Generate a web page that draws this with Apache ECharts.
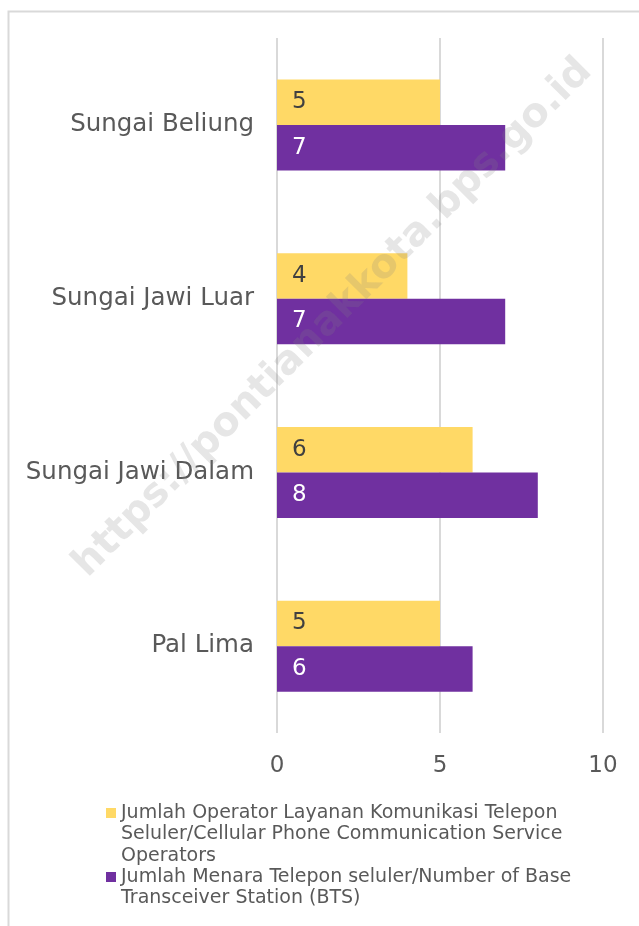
<!DOCTYPE html>
<html>
<head>
<meta charset="utf-8">
<script src="https://cdn.jsdelivr.net/npm/echarts@6/dist/echarts.min.js"></script>
<style>
  html, body { margin: 0; padding: 0; background: #fff; }
  #main { width: 639px; height: 926px; }
</style>
</head>
<body>
<div id="main"></div>
<script>
// kelurahan (dari atas ke bawah)
var kelurahan = ['Sungai Beliung', 'Sungai Jawi Luar', 'Sungai Jawi Dalam', 'Pal Lima'];
var operatorData = [5, 4, 6, 5];
var menaraData = [7, 7, 8, 6];
var xTicks = [0, 5, 10];

var namaOperator = 'Jumlah Operator Layanan Komunikasi Telepon Seluler/Cellular Phone Communication Service Operators';
var namaMenara = 'Jumlah Menara Telepon seluler/Number of Base Transceiver Station (BTS)';
// teks legenda per baris; baris kosong di depan supaya ikon sejajar baris pertama
var legendWrap = {};
legendWrap[namaOperator] = '\n\nJumlah Operator Layanan Komunikasi Telepon\nSeluler/Cellular Phone Communication Service\nOperators';
legendWrap[namaMenara] = '\nJumlah Menara Telepon seluler/Number of Base\nTransceiver Station (BTS)';

var font = 'DejaVu Sans';
var abu = '#595959';
var lh = 21.5;

var myChart = echarts.init(document.getElementById('main'));

function legendItem(nama, top) {
    return {
        data: [nama],
        left: 106,
        top: top,
        padding: 0,
        icon: 'rect',
        itemWidth: 10,
        itemHeight: 10,
        selectedMode: false,
        formatter: function (n) { return legendWrap[n]; },
        textStyle: { fontFamily: font, fontSize: 19, color: abu, lineHeight: lh }
    };
}

option = {
    animation: false,
    backgroundColor: '#fff',
    textStyle: { fontFamily: font },
    grid: {
        left: 277,
        right: 36,
        top: 38,
        bottom: 193,
        containLabel: false
    },
    legend: [
        legendItem(namaOperator, 813 - lh * 5 / 2),
        legendItem(namaMenara, 877 - lh * 3 / 2)
    ],
    xAxis: {
        type: 'value',
        min: xTicks[0],
        max: xTicks[xTicks.length - 1],
        interval: xTicks[1] - xTicks[0],
        axisLine: { show: false },
        axisTick: { show: false },
        splitLine: { lineStyle: { color: '#d9d9d9', width: 2 } },
        axisLabel: { color: abu, fontSize: 23, fontFamily: font, margin: 22 }
    },
    yAxis: {
        type: 'category',
        inverse: true,
        data: kelurahan,
        axisLine: { show: false },
        axisTick: { show: false },
        axisLabel: { color: abu, fontSize: 24.5, fontFamily: font, margin: 23 }
    },
    series: [
        {
            name: namaOperator,
            type: 'bar',
            data: operatorData,
            barWidth: 45.5,
            barGap: '0%',
            itemStyle: { color: '#FFD966' },
            label: {
                show: true,
                position: 'insideLeft',
                distance: 15,
                color: '#404040',
                fontSize: 23,
                fontFamily: font
            }
        },
        {
            name: namaMenara,
            type: 'bar',
            data: menaraData,
            barWidth: 45.5,
            barGap: '0%',
            itemStyle: { color: '#7030A0' },
            label: {
                show: true,
                position: 'insideLeft',
                distance: 15,
                color: '#ffffff',
                fontSize: 23,
                fontFamily: font
            }
        }
    ],
    graphic: [
        {
            type: 'rect',
            left: 6,
            top: 9,
            shape: { width: 700, height: 1000 },
            style: { fill: null, stroke: '#d9d9d9', lineWidth: 2 },
            silent: true,
            z: -1
        },
        {
            type: 'text',
            x: 333,
            y: 318,
            rotation: Math.PI / 4,
            style: {
                text: 'https://pontianakkota.bps.go.id',
                font: 'bold 40px "DejaVu Sans"',
                fill: 'rgba(128,128,128,0.2)',
                align: 'center',
                verticalAlign: 'middle'
            },
            silent: true,
            z: 100
        }
    ]
};

myChart.setOption(option);
</script>
</body>
</html>
